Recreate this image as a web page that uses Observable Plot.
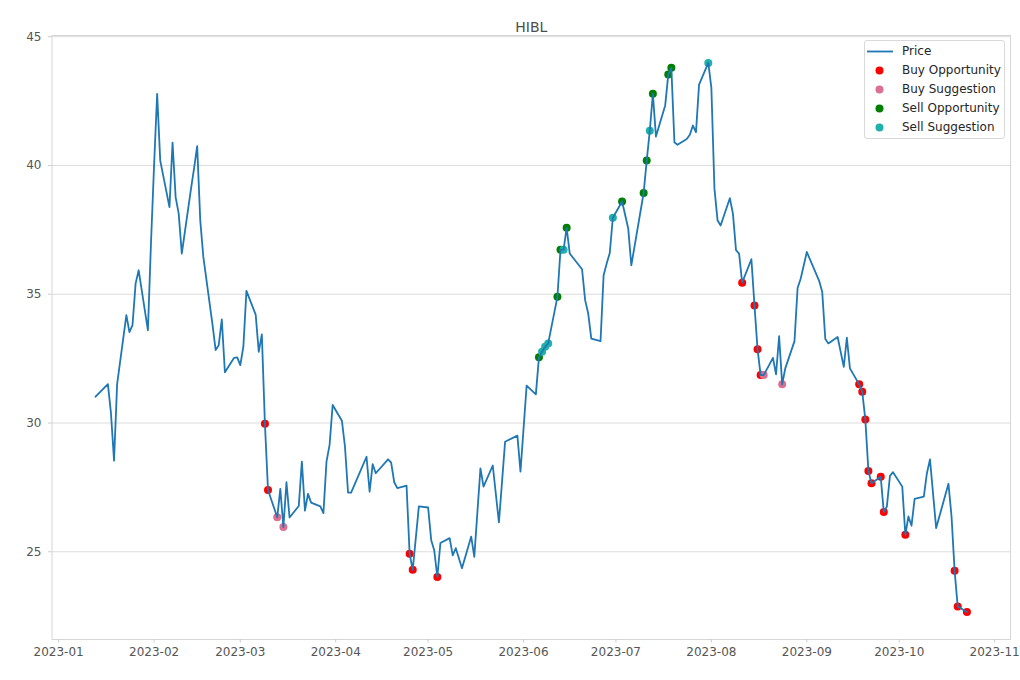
<!DOCTYPE html>
<html>
<head>
<meta charset="utf-8">
<script src="https://cdn.jsdelivr.net/npm/d3@7"></script>
<script src="https://cdn.jsdelivr.net/npm/@observablehq/plot@0.6"></script>
<style>
  html, body { margin: 0; padding: 0; background: #fff; }
  #wrap { position: relative; width: 1020px; height: 680px; font-family: "DejaVu Sans", sans-serif; }
  #legend { position: absolute; left: 864px; top: 40px; width: 139px; height: 97px; border: 1px solid #d9d9d9; border-radius: 3px; background: rgba(255,255,255,0.85); font-size: 12px; color: #262626; }
  .row { position: absolute; left: 0; width: 139px; height: 19px; }
  .row svg { position: absolute; left: 0; top: 0; }
  .row span { position: absolute; left: 37px; top: 1px; line-height: 17px; white-space: nowrap; }
</style>
</head>
<body>
<div id="wrap"></div>
<script>
// ---- data ----
const dates = [
  "2023-01-13","2023-01-17","2023-01-18","2023-01-19","2023-01-20","2023-01-23","2023-01-24","2023-01-25","2023-01-26","2023-01-27",
  "2023-01-30","2023-01-31","2023-02-01","2023-02-02","2023-02-03","2023-02-06","2023-02-07","2023-02-08","2023-02-09","2023-02-10",
  "2023-02-13","2023-02-14","2023-02-15","2023-02-16","2023-02-17","2023-02-20","2023-02-21","2023-02-22","2023-02-23","2023-02-24",
  "2023-02-27","2023-02-28","2023-03-01","2023-03-02","2023-03-03","2023-03-06","2023-03-07","2023-03-08","2023-03-09","2023-03-10",
  "2023-03-13","2023-03-14","2023-03-15","2023-03-16","2023-03-17","2023-03-20","2023-03-21","2023-03-22","2023-03-23","2023-03-24",
  "2023-03-27","2023-03-28","2023-03-29","2023-03-30","2023-03-31","2023-04-03","2023-04-04","2023-04-05","2023-04-06","2023-04-11",
  "2023-04-12","2023-04-13","2023-04-14","2023-04-18","2023-04-19","2023-04-20","2023-04-21","2023-04-24","2023-04-25","2023-04-26",
  "2023-04-28","2023-05-01","2023-05-02","2023-05-03","2023-05-04","2023-05-05","2023-05-08","2023-05-09","2023-05-10","2023-05-12",
  "2023-05-15","2023-05-16","2023-05-18","2023-05-19","2023-05-22","2023-05-24","2023-05-26","2023-05-30","2023-05-31","2023-06-02",
  "2023-06-05","2023-06-06","2023-06-07","2023-06-08","2023-06-09","2023-06-12","2023-06-13","2023-06-14","2023-06-15","2023-06-16",
  "2023-06-20","2023-06-21","2023-06-22","2023-06-23","2023-06-26","2023-06-27","2023-06-28","2023-06-29","2023-06-30","2023-07-03",
  "2023-07-05","2023-07-06","2023-07-10","2023-07-11","2023-07-12","2023-07-13","2023-07-14","2023-07-17","2023-07-18","2023-07-19",
  "2023-07-20","2023-07-21","2023-07-24","2023-07-25","2023-07-26","2023-07-27","2023-07-28","2023-07-31","2023-08-01","2023-08-02",
  "2023-08-03","2023-08-04","2023-08-07","2023-08-08","2023-08-09","2023-08-10","2023-08-11","2023-08-14","2023-08-15","2023-08-16",
  "2023-08-17","2023-08-18","2023-08-21","2023-08-22","2023-08-23","2023-08-24","2023-08-25","2023-08-28","2023-08-29","2023-08-30",
  "2023-09-01","2023-09-05","2023-09-06","2023-09-07","2023-09-08","2023-09-11","2023-09-13","2023-09-14","2023-09-15","2023-09-18",
  "2023-09-19","2023-09-20","2023-09-21","2023-09-22","2023-09-25","2023-09-26","2023-09-27","2023-09-28","2023-09-29","2023-10-02",
  "2023-10-03","2023-10-04","2023-10-05","2023-10-06","2023-10-09","2023-10-10","2023-10-11","2023-10-13","2023-10-17","2023-10-18",
  "2023-10-19","2023-10-20","2023-10-23"
];
const prices = [
  31.02,31.51,30.38,28.54,31.51,34.19,33.53,33.80,35.41,35.93,
  33.60,37.00,40.00,42.78,40.19,38.38,40.89,38.77,38.13,36.58,
  39.10,39.90,40.75,37.87,36.45,33.80,32.83,33.02,34.02,31.97,
  32.53,32.55,32.25,32.96,35.13,34.21,32.76,33.44,29.97,27.40,
  26.34,27.44,25.96,27.70,26.33,26.78,28.50,26.60,27.25,26.91,
  26.76,26.50,28.50,29.15,30.70,30.09,29.08,27.30,27.30,28.69,
  27.33,28.40,28.05,28.59,28.46,27.70,27.47,27.57,24.92,24.30,
  26.76,26.72,25.46,25.05,24.02,25.34,25.53,24.86,25.14,24.36,
  25.59,24.80,28.24,27.53,28.35,26.14,29.27,29.51,28.11,31.45,
  31.11,32.55,32.77,32.96,33.09,34.90,36.73,36.73,37.58,36.58,
  35.97,34.77,34.25,33.28,33.18,35.74,36.19,36.60,37.97,38.60,
  37.55,36.12,38.93,40.19,41.35,42.78,41.12,42.33,43.53,43.79,
  40.90,40.80,41.03,41.19,41.55,41.29,43.14,43.98,43.01,39.10,
  37.87,37.67,38.73,38.13,36.71,36.58,35.45,36.36,34.56,32.86,
  31.86,31.86,32.53,31.89,33.37,31.50,32.12,33.18,35.24,35.60,
  36.64,35.52,35.09,33.26,33.09,33.34,32.18,33.31,32.12,31.50,
  31.21,30.14,28.14,27.66,27.91,26.54,26.76,27.95,28.09,27.53,
  25.66,26.37,26.01,27.05,27.14,28.05,28.59,25.92,27.64,26.37,
  24.26,22.88,22.66
];
const buyOpportunityDates = [
  "2023-03-09","2023-03-10","2023-04-25","2023-04-26","2023-05-04","2023-08-11","2023-08-15","2023-08-16","2023-08-17",
  "2023-09-18","2023-09-19","2023-09-20","2023-09-21","2023-09-22","2023-09-25","2023-09-26","2023-10-03",
  "2023-10-19","2023-10-20","2023-10-23"
];
const buySuggestionDates = ["2023-03-13","2023-03-15","2023-08-18","2023-08-24"];
const sellOpportunityDates = [
  "2023-06-06","2023-06-12","2023-06-13","2023-06-15","2023-07-03","2023-07-10","2023-07-11","2023-07-13","2023-07-18","2023-07-19"
];
const sellSuggestionDates = ["2023-06-07","2023-06-08","2023-06-09","2023-06-14","2023-06-30","2023-07-12","2023-07-31"];
const yTicks = [25, 30, 35, 40, 45];
const xTickLabels = ["2023-01","2023-02","2023-03","2023-04","2023-05","2023-06","2023-07","2023-08","2023-09","2023-10","2023-11"];
const title = "HIBL";
const seriesNames = ["Price", "Buy Opportunity", "Buy Suggestion", "Sell Opportunity", "Sell Suggestion"];

// ---- build ----
const parseDay = d3.utcParse("%Y-%m-%d");
const parseMonth = d3.utcParse("%Y-%m");
const series = dates.map((d, i) => ({date: parseDay(d), price: prices[i]}));
const lookup = new Map(dates.map((d, i) => [d, prices[i]]));
const pts = arr => arr.map(d => ({date: parseDay(d), price: lookup.get(d)}));
const xTicks = xTickLabels.map(parseMonth);

const [x0, x1] = d3.extent(series, d => d.date);
const px = (x1 - x0) * 0.05;
const xDomain = [new Date(+x0 - px), new Date(+x1 + px)];
const [y0, y1] = d3.extent(series, d => d.price);
const py = (y1 - y0) * 0.05;
const yDomain = [y0 - py, y1 + py];

const colors = {line: "#1f77b4", bo: "#ff0000", bs: "#db7093", so: "#008000", ss: "#20b2aa"};

const chart = Plot.plot({
  width: 1020,
  height: 680,
  marginLeft: 51.5,
  marginRight: 10,
  marginTop: 35,
  marginBottom: 41,
  style: {fontFamily: "'DejaVu Sans', sans-serif", fontSize: "12px", background: "#fff", color: "#4d4d4d"},
  x: {type: "utc", domain: xDomain},
  y: {domain: yDomain},
  marks: [
    Plot.gridY(yTicks, {stroke: "#dcdcdc", strokeOpacity: 1, strokeWidth: 1}),
    Plot.frame({stroke: "#d6d6d6"}),
    Plot.axisY(yTicks, {tickSize: 3.5, tickPadding: 7, stroke: "#cccccc", fill: "#555555", label: null, tickFormat: d => String(d)}),
    Plot.axisX(xTicks, {tickSize: 3.5, tickPadding: 4.5, stroke: "#cccccc", fill: "#555555", label: null, tickFormat: d3.utcFormat("%Y-%m")}),
    Plot.dot(pts(buyOpportunityDates), {x: "date", y: "price", r: 4, fill: colors.bo, stroke: "none"}),
    Plot.dot(pts(buySuggestionDates), {x: "date", y: "price", r: 4, fill: colors.bs, stroke: "none"}),
    Plot.dot(pts(sellOpportunityDates), {x: "date", y: "price", r: 4, fill: colors.so, stroke: "none"}),
    Plot.dot(pts(sellSuggestionDates), {x: "date", y: "price", r: 4, fill: colors.ss, stroke: "none"}),
    Plot.line(series, {x: "date", y: "price", stroke: colors.line, strokeWidth: 1.8}),
    Plot.text([title], {text: d => d, frameAnchor: "top", dy: -13, fontSize: 14, fill: "#4d4d4d"})
  ]
});

const wrap = document.getElementById("wrap");
wrap.appendChild(chart);

// legend
const legend = document.createElement("div");
legend.id = "legend";
const swatchColors = [colors.line, colors.bo, colors.bs, colors.so, colors.ss];
seriesNames.forEach((name, i) => {
  const row = document.createElement("div");
  row.className = "row";
  row.style.top = (i * 19 + 0.5) + "px";
  const sw = i === 0
    ? `<svg width="32" height="19"><line x1="2" x2="28" y1="9.5" y2="9.5" stroke="${swatchColors[i]}" stroke-width="1.8"/></svg>`
    : `<svg width="32" height="19"><circle cx="14.5" cy="9.5" r="4" fill="${swatchColors[i]}"/></svg>`;
  row.innerHTML = sw + `<span>${name}</span>`;
  legend.appendChild(row);
});
wrap.appendChild(legend);
</script>
</body>
</html>
